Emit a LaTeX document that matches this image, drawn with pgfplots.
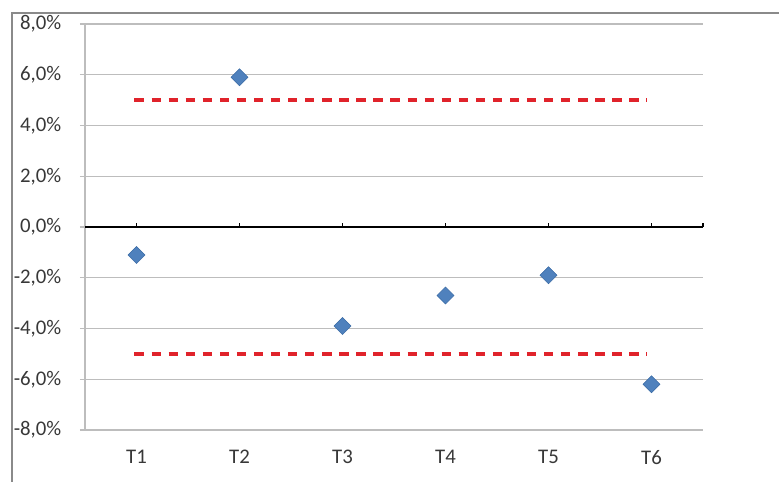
\documentclass[border=0pt]{standalone}
\usepackage{pgfplots}
\pgfplotsset{compat=1.18}
\usepackage{fontspec}
\setmainfont{Carlito}
\definecolor{gridgray}{HTML}{BDBDBD}
\definecolor{framegray}{HTML}{8A8A8A}
\definecolor{markblue}{HTML}{4F81BD}
\definecolor{markedge}{HTML}{3A6BA5}
\definecolor{limred}{HTML}{E0232B}
\definecolor{txt}{HTML}{383838}
\begin{document}
\begin{tikzpicture}[x=1pt,y=1pt]
\useasboundingbox (0,0) rectangle (584.25,361.5);
\begin{axis}[
  scale only axis,
  width=463.5pt, height=304.5pt,
  at={(63.75pt,39pt)}, anchor=south west,
  xmin=0.5, xmax=6.5, ymin=-8, ymax=8,
  xtick={1,2,3,4,5,6},
  xticklabels={T1,T2,T3,T4,T5,T6},
  ytick={-8,-6,-4,-2,0,2,4,6,8},
  yticklabels={{-8,0\%},{-6,0\%},{-4,0\%},{-2,0\%},{0,0\%},{2,0\%},{4,0\%},{6,0\%},{8,0\%}},
  axis line style={draw=none},
  xtick style={draw=none},
  ytick pos=left,
  ytick style={color=gridgray, line width=1.1pt},
  tick align=outside,
  major tick length=3.75pt,
  ymajorgrids,
  grid style={gridgray, line width=1.1pt},
  tick label style={font=\fontsize{15.6}{18}\selectfont, text=txt},
  yticklabel style={xshift=-10.5pt},
  xticklabel style={yshift=-8pt},
  clip=false,
]
\draw[gridgray, line width=1.1pt] (axis cs:0.5,-8) -- (axis cs:0.5,8);
\draw[black, line width=2.2pt] (axis cs:0.5,0) -- (axis cs:6.5,0);
\pgfplotsinvokeforeach{1,2,3,4,5,6,6.5}{
  \draw[black, line width=1.4pt] (axis cs:#1,0) -- (axis cs:#1,0.16);
}
\addplot[limred, line width=2.6pt, dash pattern=on 7pt off 5.8pt] coordinates {(0.98,5) (5.96,5)};
\addplot[limred, line width=2.6pt, dash pattern=on 7pt off 5.8pt] coordinates {(0.98,-5) (5.96,-5)};
\addplot[only marks, mark=square*, mark size=4.5pt,
  mark options={rotate=45, fill=markblue, draw=markedge, line width=0.4pt}]
  coordinates {(1,-1.1) (2,5.9) (3,-3.9) (4,-2.7) (5,-1.9) (6,-6.2)};
\end{axis}
\draw[framegray, line width=1.1pt] (9,0) -- (9,351.75) -- (584.25,351.75);
\end{tikzpicture}
\end{document}
